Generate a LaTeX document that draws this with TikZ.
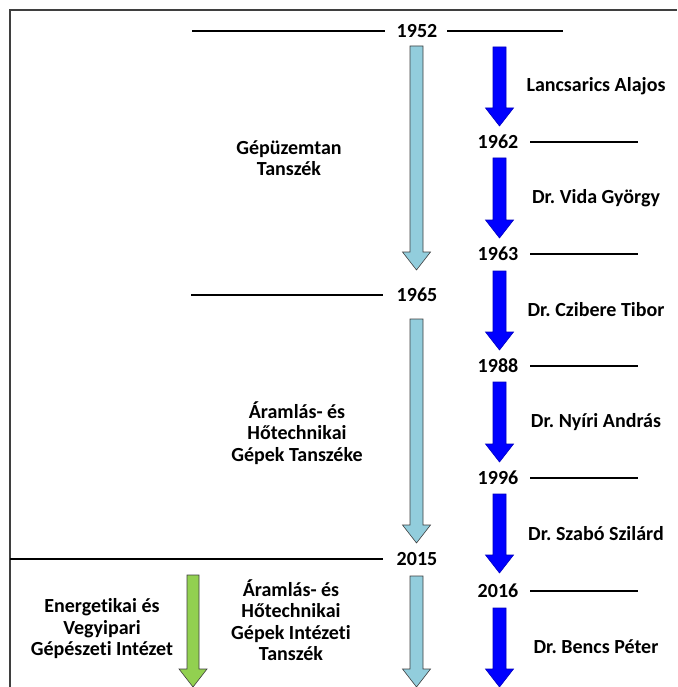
\documentclass[tikz,border=0pt]{standalone}
\usepackage{fontspec}
\setmainfont{Carlito}[Ligatures=NoCommon]
\usetikzlibrary{positioning}
\definecolor{aqua}{HTML}{92CDDC}
\definecolor{leaf}{HTML}{92D050}
\definecolor{deepblue}{HTML}{0000FF}
\definecolor{rim}{HTML}{3F3F3F}
\frenchspacing

% block arrow: style, centre x, top y, tip y, shaft half width
\newcommand{\fatarrow}[5]{%
  \draw[#1] ({#2-#5},#3) -- ({#2+#5},#3) -- ({#2+#5},{#4-18}) -- ({#2+14},{#4-18})
    -- (#2,#4) -- ({#2-14},{#4-18}) -- ({#2-#5},{#4-18}) -- cycle;}

\begin{document}
\begin{tikzpicture}[x=1pt,y=-1pt,font=\fontsize{20}{21.5}\selectfont\bfseries,
  yearlbl/.style={inner sep=0pt},
  unitname/.style={align=center,inner sep=0pt},
  rule/.style={line width=1.6pt},
  aquaarrow/.style={fill=aqua,draw=rim,line width=0.6pt},
  leafarrow/.style={fill=leaf,draw=rim,line width=0.6pt},
  bluearrow/.style={fill=deepblue,draw=deepblue!75!black,line width=0.6pt}]
\useasboundingbox (0,0) rectangle (677,687);
% frame
\draw[rim,line width=1.5pt] (10,687) -- (10,10) -- (677,10);

% department periods
\node[yearlbl] (y1952) at (417,31) {1952};
\node[yearlbl] (y1965) at (417,295) {1965};
\node[yearlbl] (y2015) at (417,559) {2015};
\coordinate (l1952) at (192,31);
\coordinate (r1952) at (563,31);
\coordinate (l1965) at (191,295);
\coordinate (l2015) at (10,559);
\draw[rule] (l1952) -- ([xshift=-12pt]y1952.west);
\draw[rule] ([xshift=10pt]y1952.east) -- (r1952);
\draw[rule] (l1965) -- ([xshift=-14pt]y1965.west);
\draw[rule] (l2015) -- ([xshift=-14pt]y2015.west);

\fatarrow{aquaarrow}{416.5}{46}{270}{6.5}
\fatarrow{aquaarrow}{416.5}{319}{543}{6.5}
\fatarrow{aquaarrow}{416.5}{576}{687}{6.5}
\fatarrow{leafarrow}{193}{575}{687}{6}

\node[unitname] (gepuz) at (289,158) {Gépüzemtan\\Tanszék};
\node[unitname] (ahgt) at (297,433) {Áramlás- és\\Hőtechnikai\\Gépek Tanszéke};
\node[unitname] (evgi) at (102,629) {Energetikai és\\Vegyipari\\Gépészeti Intézet};
\node[unitname] (ahgit) at (291,620) {Áramlás- és\\Hőtechnikai\\Gépek Intézeti\\Tanszék};

% heads of department
\foreach \yr/\yy in {1962/142,1963/254,1988/366,1996/478,2016/591}
  {\node[yearlbl] (y\yr) at (498,\yy) {\yr};
   \coordinate (e\yr) at (638,\yy);
   \draw[rule] ([xshift=12pt]y\yr.east) -- (e\yr);}
\foreach \a/\b in {47/126,158/238,271/350,382/462,494/573,608/687}
  {\fatarrow{bluearrow}{499.5}{\a}{\b}{6.5}}
\foreach \who/\yy [count=\i] in {Lancsarics Alajos/86,Dr. Vida György/198,
  Dr. Czibere Tibor/310,Dr. Nyíri András/422,Dr. Szabó Szilárd/534,Dr. Bencs Péter/647}
  {\node[unitname] (head\i) at (596,\yy) {\who};}
\end{tikzpicture}
\end{document}
